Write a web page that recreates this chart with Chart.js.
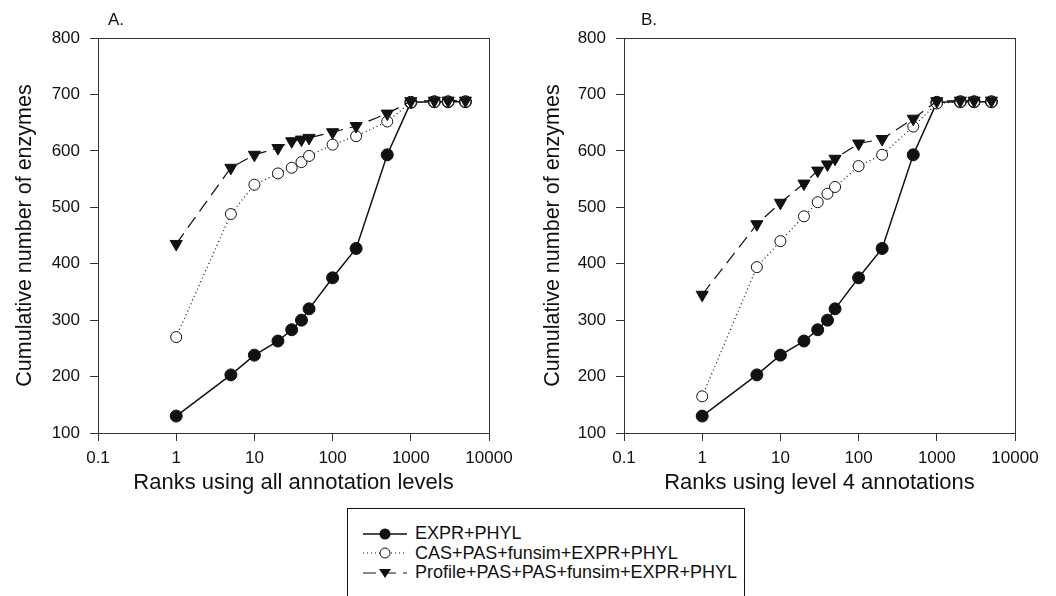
<!DOCTYPE html>
<html>
<head>
<meta charset="utf-8">
<script src="https://cdn.jsdelivr.net/npm/chart.js@4/dist/chart.umd.min.js"></script>
<style>
  body { margin: 0; background: #fff; font-family: "Liberation Sans", Arial, sans-serif; }
  #wrap { position: relative; width: 1056px; height: 596px; overflow: hidden; }
  canvas { position: absolute; top: 0; }
  .panel { position: absolute; top: 10px; font-size: 17px; color: #111; }
  #legend { position: absolute; left: 347px; top: 508px; width: 398px; height: 120px;
            border: 1px solid #111; box-sizing: border-box; padding-top: 15px; }
  .row { display: flex; align-items: center; height: 19.5px; font-size: 18px; color: #111; }
  .row svg { margin-left: 15px; margin-right: 8px; }
</style>
</head>
<body>
<div id="wrap">
  <canvas id="chartA" width="528" height="500" style="left:0"></canvas>
  <canvas id="chartB" width="528" height="500" style="left:528px"></canvas>
  <div class="panel" style="left:108px">A.</div>
  <div class="panel" style="left:641px">B.</div>
  <div id="legend"></div>
</div>
<script>
// ranks (x values) shared by both panels
const ranks = [1, 5, 10, 20, 30, 40, 50, 100, 200, 500, 1000, 2000, 3000, 5000];

const xTicks = [0.1, 1, 10, 100, 1000, 10000];
const xTickLabels = ['0.1', '1', '10', '100', '1000', '10000'];

const seriesNames = ['EXPR+PHYL', 'CAS+PAS+funsim+EXPR+PHYL', 'Profile+PAS+PAS+funsim+EXPR+PHYL'];

// panel A - all annotation levels
const exprPhylA = [130, 203, 238, 263, 283, 300, 320, 375, 427, 593, 686, 687, 687, 687];
const casA      = [270, 488, 540, 560, 570, 580, 591, 611, 626, 652, 686, 687, 687, 687];
const profileA  = [435, 570, 593, 605, 617, 620, 623, 633, 644, 666, 688, 689, 689, 689];

// panel B - level 4 annotations
const exprPhylB = [130, 203, 238, 263, 283, 300, 320, 375, 427, 593, 686, 687, 687, 687];
const casB      = [165, 394, 440, 484, 509, 524, 536, 573, 593, 643, 684, 687, 687, 687];
const profileB  = [345, 470, 508, 542, 565, 576, 586, 613, 621, 657, 688, 689, 689, 689];

const ink = '#111';
const axisColor = '#333';
const fontFam = '"Liberation Sans", Arial, sans-serif';

const pts = arr => arr.map((v, i) => ({ x: ranks[i], y: v }));

// box round the plot area
const frame = {
  id: 'frame',
  afterDraw(chart) {
    const { ctx, chartArea: a } = chart;
    ctx.save();
    ctx.strokeStyle = axisColor;
    ctx.lineWidth = 1;
    ctx.strokeRect(Math.round(a.left) + 0.5, Math.round(a.top) + 0.5,
                   Math.round(a.right - a.left), Math.round(a.bottom - a.top));
    ctx.restore();
  }
};

function makeChart(id, expr, cas, profile, xTitle, yWidth, rightPad) {
  return new Chart(document.getElementById(id), {
    type: 'line',
    data: {
      datasets: [
        {
          label: seriesNames[0], data: pts(expr), order: 3,
          borderColor: ink, borderWidth: 1.5,
          pointStyle: 'circle', pointRadius: 6,
          pointBackgroundColor: ink, pointBorderColor: ink, pointBorderWidth: 1
        },
        {
          label: seriesNames[1], data: pts(cas), order: 2,
          borderColor: ink, borderWidth: 1.2, borderDash: [1, 3],
          pointStyle: 'circle', pointRadius: 5.5,
          pointBackgroundColor: '#fff', pointBorderColor: ink, pointBorderWidth: 1
        },
        {
          label: seriesNames[2], data: pts(profile), order: 1,
          borderColor: ink, borderWidth: 1.2, borderDash: [13, 7],
          pointStyle: 'triangle', pointRotation: 180, pointRadius: 7,
          pointBackgroundColor: ink, pointBorderColor: ink, pointBorderWidth: 1
        }
      ]
    },
    options: {
      responsive: false,
      animation: false,
      devicePixelRatio: 1,
      layout: { padding: { top: 38, right: rightPad, left: 0, bottom: 0 } },
      plugins: { legend: { display: false }, tooltip: { enabled: false } },
      scales: {
        x: {
          type: 'logarithmic', min: 0.1, max: 10000,
          afterBuildTicks: s => { s.ticks = xTicks.map(v => ({ value: v })); },
          afterFit: s => { s.height = 67; },
          ticks: {
            autoSkip: false, maxRotation: 0, padding: 7, color: ink,
            font: { family: fontFam, size: 17 },
            callback: (v, i) => xTickLabels[i]
          },
          grid: { drawOnChartArea: false, tickLength: 8, color: axisColor },
          border: { color: axisColor },
          title: {
            display: true, text: xTitle, color: ink,
            font: { family: fontFam, size: 22 },
            padding: { top: 0, bottom: 4 }
          }
        },
        y: {
          min: 100, max: 800,
          afterFit: s => { s.width = yWidth; },
          ticks: {
            stepSize: 100, padding: 10, color: ink,
            font: { family: fontFam, size: 17 }
          },
          grid: { drawOnChartArea: false, tickLength: 8, color: axisColor },
          border: { color: axisColor },
          title: {
            display: true, text: 'Cumulative number of enzymes', color: ink,
            font: { family: fontFam, size: 21.5 },
            padding: { top: 12, bottom: 0 }
          }
        }
      }
    },
    plugins: [frame]
  });
}

makeChart('chartA', exprPhylA, casA, profileA, 'Ranks using all annotation levels', 98, 39);
makeChart('chartB', exprPhylB, casB, profileB, 'Ranks using level 4 annotations', 96, 41);

// legend samples
const samples = [
  '<line x1="0" y1="7" x2="44" y2="7" stroke="#111" stroke-width="1.5"/><circle cx="22" cy="7" r="5.5" fill="#111"/>',
  '<line x1="0" y1="7" x2="44" y2="7" stroke="#111" stroke-width="1.2" stroke-dasharray="1 3"/><circle cx="22" cy="7" r="5" fill="#fff" stroke="#111"/>',
  '<line x1="0" y1="7" x2="44" y2="7" stroke="#111" stroke-width="1.2" stroke-dasharray="13 7"/><polygon points="16,3 28,3 22,12" fill="#111"/>'
];
const legend = document.getElementById('legend');
seriesNames.forEach((name, i) => {
  const row = document.createElement('div');
  row.className = 'row';
  row.innerHTML = '<svg width="44" height="14">' + samples[i] + '</svg><span>' + name + '</span>';
  legend.appendChild(row);
});
</script>
</body>
</html>
